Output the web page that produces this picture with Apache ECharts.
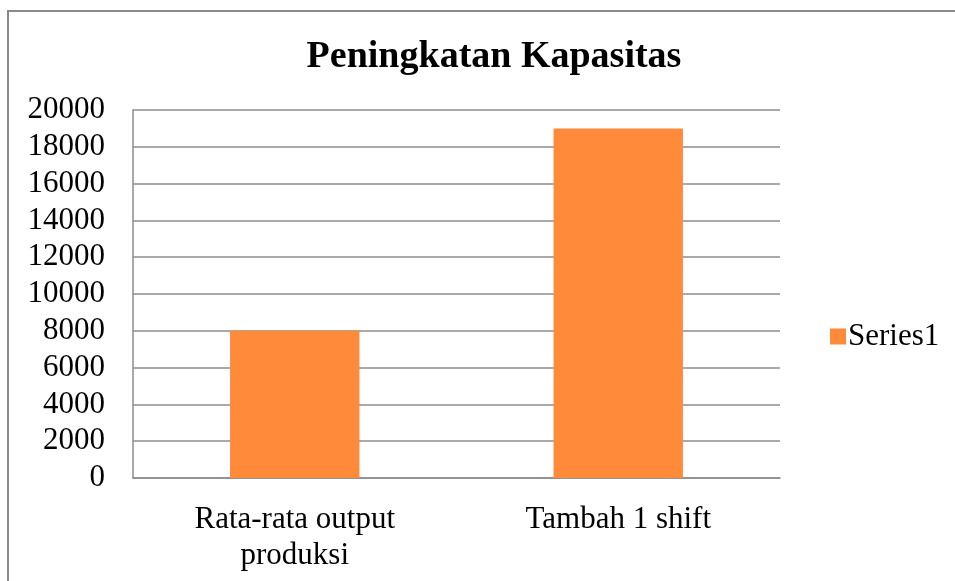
<!DOCTYPE html>
<html>
<head>
<meta charset="utf-8">
<script src="https://cdn.jsdelivr.net/npm/echarts@6/dist/echarts.min.js"></script>
<style>
  html, body { margin: 0; padding: 0; background: #fff; }
  #frame {
    position: absolute; left: 7px; top: 10px; width: 1000px; height: 700px;
    border-left: 2px solid #8a8a8a; border-top: 2px solid #8a8a8a;
  }
  #chart { position: absolute; left: 0; top: 0; width: 955px; height: 581px; }
</style>
</head>
<body>
<div id="frame"></div>
<div id="chart"></div>
<script>
// data
const categories = ['Rata-rata output\nproduksi', 'Tambah 1 shift']
const series1 = [8000, 19000]
const seriesName = 'Series1'
const chartTitle = 'Peningkatan Kapasitas'

const font = '"Liberation Serif", "Times New Roman", serif'
const gridColor = '#8c8c8c'

const chart = echarts.init(document.getElementById('chart'))
chart.setOption({
  animation: false,
  title: {
    text: chartTitle,
    left: 489,
    top: 33,
    textAlign: 'center',
    textStyle: {
      fontFamily: font,
      fontSize: 38,
      fontWeight: 'bold',
      color: '#000',
    },
  },
  legend: {
    data: [seriesName],
    left: 825,
    top: 316,
    icon: 'rect',
    itemWidth: 16,
    itemHeight: 16,
    itemGap: 6,
    textStyle: {
      fontFamily: font,
      fontSize: 31,
      color: '#000',
      padding: [0, 0, 0, -3],
    },
  },
  grid: {
    left: 133,
    top: 110,
    width: 647,
    height: 368,
    containLabel: false,
  },
  xAxis: {
    type: 'category',
    data: categories,
    axisTick: { show: false },
    axisLine: { show: true, lineStyle: { color: gridColor, width: 1.5 } },
    axisLabel: {
      fontFamily: font,
      fontSize: 31,
      color: '#000',
      lineHeight: 36,
      margin: 24,
      interval: 0,
    },
  },
  yAxis: {
    type: 'value',
    min: 0,
    max: 20000,
    interval: 2000,
    axisTick: { show: false },
    axisLine: { show: true, lineStyle: { color: gridColor, width: 1.5 } },
    splitLine: { show: true, lineStyle: { color: gridColor, width: 1.5 } },
    axisLabel: {
      fontFamily: font,
      fontSize: 31,
      color: '#000',
      margin: 28,
      formatter: (v) => String(v),
    },
  },
  series: [
    {
      name: seriesName,
      type: 'bar',
      data: series1,
      barWidth: '40%',
      itemStyle: { color: '#FF8B3A' },
    },
  ],
})
</script>
</body>
</html>
